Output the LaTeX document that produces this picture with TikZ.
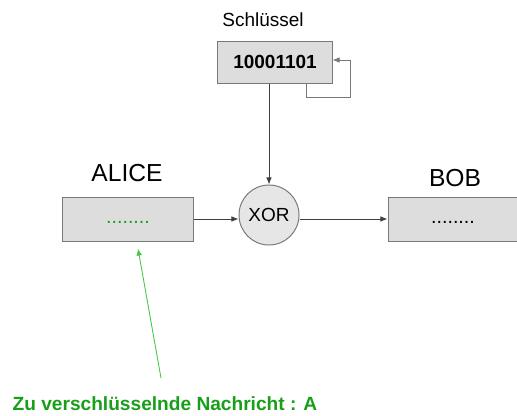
\documentclass[tikz,border=0pt]{standalone}
\usepackage{fontspec}
\setmainfont{Liberation Sans}
\usepackage{xcolor}
\usetikzlibrary{arrows.meta}

\definecolor{boxgray}{RGB}{221,221,221}
\definecolor{circlegray}{RGB}{230,230,230}
\definecolor{edgegray}{RGB}{120,120,120}
\definecolor{msggreen}{RGB}{24,158,24}
\definecolor{linegreen}{RGB}{70,200,70}

\begin{document}
\begin{tikzpicture}[
    x=0.025cm, y=-0.025cm,
    box/.style={
        draw=edgegray,
        fill=boxgray,
        line width=0.7pt,
        minimum width=3.25cm,
        minimum height=1.1cm,
        inner sep=0pt
    },
    dots/.style={
        font=\fontsize{14}{16}\selectfont,
        text height=0.75em,
        text depth=0.15em
    },
    conn/.style={
        draw=black!75,
        line width=0.6pt,
        -{Latex[length=5pt,width=4pt]}
    }
]
\useasboundingbox (0,0) rectangle (517,415);

% key register with feedback
\node[font=\fontsize{13.5}{16}\selectfont] (keylabel) at (263,20) {Schlüssel};

\node[
    box,
    minimum width=2.85cm,
    minimum height=1.05cm,
    font=\fontsize{13.5}{16}\selectfont\bfseries
] (key) at (275,62)
{10001101};

\coordinate (loopcorner) at (350,97);
\draw[conn, draw=edgegray]
    ([xshift=-0.65cm]key.south east) |- (loopcorner) |- ([yshift=0.05cm]key.east);

% xor
\node[
    circle,
    draw=edgegray,
    fill=circlegray,
    line width=0.7pt,
    minimum size=1.5cm,
    inner sep=0pt,
    font=\fontsize{13.5}{16}\selectfont
] (xor) at (269,215)
{XOR};

\draw[conn] (xor.north |- key.south) -- (xor.north);

% alice and bob
\node[font=\fontsize{17.5}{20}\selectfont] (alicelabel) at (127,173) {ALICE};
\node[box, dots, text=msggreen] (alice) at (128,219) {........};

\node[font=\fontsize{17.5}{20}\selectfont] (boblabel) at (455,178) {BOB};
\node[box, dots] (bob) at (453,219) {........};

\draw[conn] (alice.east) -- (alice.east -| xor.west);
\draw[conn] (xor.east |- bob.west) -- (bob.west);

% message
\node[
    font=\fontsize{13.6}{16}\selectfont\bfseries,
    text=msggreen
] (msg) at (165,404)
{Zu verschlüsselnde Nachricht : A};

\draw[conn, draw=linegreen, fill=linegreen]
    ([xshift=-0.1cm, yshift=0.35cm]msg.north) -- ([xshift=0.25cm, yshift=-0.175cm]alice.south);

\end{tikzpicture}
\end{document}
